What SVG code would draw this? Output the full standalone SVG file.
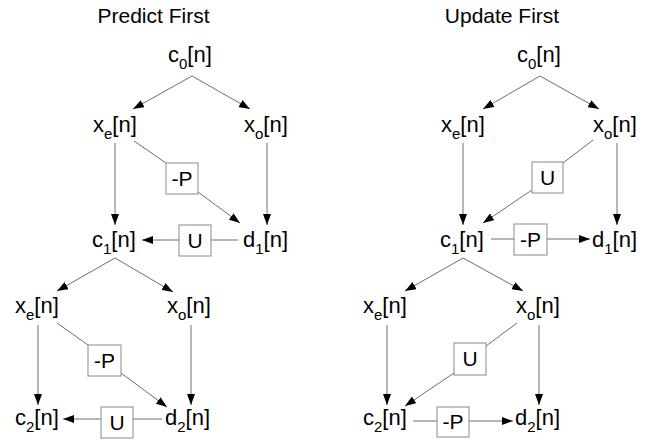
<svg xmlns="http://www.w3.org/2000/svg" width="645" height="441" viewBox="0 0 645 441">
<defs>
<marker id="ah" markerUnits="userSpaceOnUse" viewBox="0 0 11 8" refX="11" refY="4" markerWidth="11" markerHeight="8" orient="auto">
<path d="M0,0 L11,4 L0,8 z" fill="#000"/>
</marker>
<style>
text{font-family:"Liberation Sans",Arial,Helvetica,sans-serif;fill:#000;}
.t{font-size:21px;text-anchor:middle;}
.n{font-size:22px;}
.s{font-size:15px;}
.bl{font-size:21px;text-anchor:middle;}
.box{fill:#fff;stroke:#8a8a8a;stroke-width:1;}
.c{stroke:#6e6e6e;stroke-width:1;fill:none;}
.a{marker-end:url(#ah);}
</style>
</defs>
<rect width="645" height="441" fill="#fff"/>

<g id="connectors">
<!-- left panel -->
<path class="c a" d="M192,76 L133,109"/>
<path class="c a" d="M192,76 L250,109"/>
<path class="c a" d="M115,143 L115,225"/>
<path class="c a" d="M267,143 L267,225"/>
<path class="c" d="M134,141 L166,163"/>
<path class="c a" d="M198,192 L240,223"/>
<path class="c" d="M238,240 L211,240"/>
<path class="c a" d="M179,240 L142,240"/>
<path class="c a" d="M115,258 L57,291"/>
<path class="c a" d="M115,258 L173,292"/>
<path class="c a" d="M38,325 L38,405"/>
<path class="c a" d="M191,325 L191,405"/>
<path class="c" d="M57,323 L88,345"/>
<path class="c a" d="M121,373 L167,407"/>
<path class="c" d="M162,419 L133,419"/>
<path class="c a" d="M101,419 L63,419"/>
<!-- right panel -->
<path class="c a" d="M540,76 L483,109"/>
<path class="c a" d="M540,76 L599,109"/>
<path class="c a" d="M463,143 L463,225"/>
<path class="c a" d="M617,143 L617,225"/>
<path class="c" d="M593,140 L563,163"/>
<path class="c a" d="M532,190 L483,223"/>
<path class="c" d="M491,239 L514,239"/>
<path class="c a" d="M547,239 L590,239"/>
<path class="c a" d="M463,258 L405,291"/>
<path class="c a" d="M463,258 L523,291"/>
<path class="c a" d="M387,325 L387,405"/>
<path class="c a" d="M539,325 L539,405"/>
<path class="c" d="M517,323 L486,346"/>
<path class="c a" d="M454,373 L405,406"/>
<path class="c" d="M413,421 L437,421"/>
<path class="c a" d="M469,421 L513,421"/>
</g>

<g id="title-left"><text class="t" x="153.5" y="23">Predict First</text></g>
<g id="title-right"><text class="t" x="502" y="23">Update First</text></g>

<!-- left panel nodes -->
<g id="L-c0"><text class="n" x="168" y="62">c<tspan class="s" dy="7">0</tspan><tspan dy="-7">[n]</tspan></text></g>
<g id="L-xe1"><text class="n" x="93" y="132">x<tspan class="s" dy="7">e</tspan><tspan dy="-7">[n]</tspan></text></g>
<g id="L-xo1"><text class="n" x="244" y="132">x<tspan class="s" dy="7">o</tspan><tspan dy="-7">[n]</tspan></text></g>
<g id="L-P1"><rect class="box" x="166" y="163" width="32" height="31"/><text class="bl" x="182" y="186">-P</text></g>
<g id="L-d1"><text class="n" x="243" y="247">d<tspan class="s" dy="7">1</tspan><tspan dy="-7">[n]</tspan></text></g>
<g id="L-c1"><text class="n" x="92" y="247">c<tspan class="s" dy="7">1</tspan><tspan dy="-7">[n]</tspan></text></g>
<g id="L-U1"><rect class="box" x="179" y="225" width="32" height="31"/><text class="bl" x="195" y="248">U</text></g>
<g id="L-xe2"><text class="n" x="15" y="313">x<tspan class="s" dy="7">e</tspan><tspan dy="-7">[n]</tspan></text></g>
<g id="L-xo2"><text class="n" x="167" y="313">x<tspan class="s" dy="7">o</tspan><tspan dy="-7">[n]</tspan></text></g>
<g id="L-P2"><rect class="box" x="88" y="345" width="33" height="31"/><text class="bl" x="104.5" y="368">-P</text></g>
<g id="L-c2"><text class="n" x="15" y="425">c<tspan class="s" dy="7">2</tspan><tspan dy="-7">[n]</tspan></text></g>
<g id="L-U2"><rect class="box" x="101" y="407" width="32" height="31"/><text class="bl" x="117" y="430">U</text></g>
<g id="L-d2"><text class="n" x="165" y="425">d<tspan class="s" dy="7">2</tspan><tspan dy="-7">[n]</tspan></text></g>

<!-- right panel nodes -->
<g id="R-c0"><text class="n" x="517" y="62">c<tspan class="s" dy="7">0</tspan><tspan dy="-7">[n]</tspan></text></g>
<g id="R-xe1"><text class="n" x="441" y="132">x<tspan class="s" dy="7">e</tspan><tspan dy="-7">[n]</tspan></text></g>
<g id="R-xo1"><text class="n" x="593" y="132">x<tspan class="s" dy="7">o</tspan><tspan dy="-7">[n]</tspan></text></g>
<g id="R-U1"><rect class="box" x="532" y="162" width="31" height="31"/><text class="bl" x="547.5" y="185">U</text></g>
<g id="R-c1"><text class="n" x="440" y="247">c<tspan class="s" dy="7">1</tspan><tspan dy="-7">[n]</tspan></text></g>
<g id="R-P1"><rect class="box" x="514" y="224" width="33" height="31"/><text class="bl" x="530.5" y="247">-P</text></g>
<g id="R-d1"><text class="n" x="592" y="247">d<tspan class="s" dy="7">1</tspan><tspan dy="-7">[n]</tspan></text></g>
<g id="R-xe2"><text class="n" x="363" y="313">x<tspan class="s" dy="7">e</tspan><tspan dy="-7">[n]</tspan></text></g>
<g id="R-xo2"><text class="n" x="516" y="313">x<tspan class="s" dy="7">o</tspan><tspan dy="-7">[n]</tspan></text></g>
<g id="R-U2"><rect class="box" x="454" y="343" width="32" height="32"/><text class="bl" x="470" y="366">U</text></g>
<g id="R-c2"><text class="n" x="363" y="425">c<tspan class="s" dy="7">2</tspan><tspan dy="-7">[n]</tspan></text></g>
<g id="R-P2"><rect class="box" x="437" y="407" width="32" height="30"/><text class="bl" x="453" y="429">-P</text></g>
<g id="R-d2"><text class="n" x="515" y="425">d<tspan class="s" dy="7">2</tspan><tspan dy="-7">[n]</tspan></text></g>
</svg>
